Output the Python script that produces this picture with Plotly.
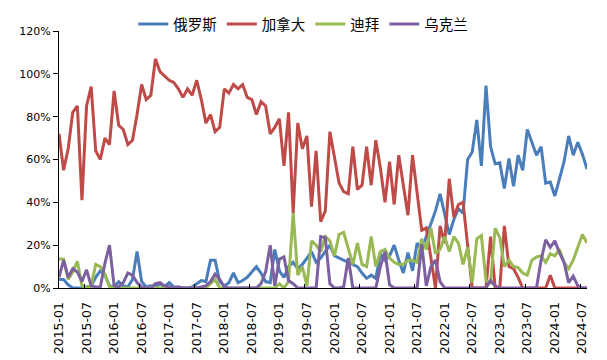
import plotly.graph_objects as go

# Monthly categories 2015-01 .. 2024-08
months = [f"{y}-{m:02d}" for y in range(2015, 2025) for m in range(1, 13)][:116]

series_names = ["俄罗斯", "加拿大", "迪拜", "乌克兰"]
series_colors = ["#4A7EBB", "#BE4B48", "#98B954", "#7D60A0"]

# values in percent
russia = [4, 4, 1.5, 0, 0, 0, 0.5, 1, 5, 8, 6, 1, 0.5, 3, 1, 0.5, 4, 17, 3, 0.5,
          1, 0.5, 2, 0.5, 2.5, 0.5, 0.5, 0, 0, 0.5, 2, 3.5, 3, 13, 13, 3, 1, 2.5, 7, 2.5,
          3.5, 5, 7.5, 10, 7, 3, 2.5, 18, 8, 5, 10, 12, 9, 11, 14, 17, 12, 14, 17, 20,
          15, 14, 13, 12, 11, 10, 7, 4.5, 6, 4.5, 16, 13, 15, 20, 13, 7, 16.5, 8, 21, 18,
          24, 30, 36, 44, 34, 25, 32, 37, 35, 60, 63.5, 78.5, 57, 94.5, 66, 58, 58.5, 46.5, 60.5, 47.5,
          62, 55, 74, 68, 62, 66, 49, 49.5, 43, 51, 59, 71, 62, 68, 62.5, 55.5]

canada = [72, 55, 65, 82, 85, 41, 85, 94, 64, 60, 70, 67, 92, 76, 74, 67, 69, 81, 95, 88,
          90, 107, 101, 99, 97, 96, 93, 89, 93, 90, 97, 88, 77, 81, 73, 75, 93, 91, 95, 93,
          95, 89, 88, 81, 87, 85, 72, 75, 79, 57, 82, 35, 77, 65, 71, 38, 64, 31, 36, 73,
          60, 49, 45, 44, 66, 46, 48, 66, 48, 69, 56, 40, 59, 39, 62, 48, 34, 62, 45, 27,
          28, 13, 0, 29, 21, 51, 33, 39, 40, 20, 0, 0, 0, 0, 24, 0, 0, 29, 10, 9,
          5, 0, 0, 0, 0, 0, 0, 6, 0, 0, 0, 0, 0, 0, 0, 0]

dubai = [13.5, 13.5, 4, 7.5, 12.5, 1, 0, 1, 11, 10, 6.5, 0.5, 0, 0, 0, 0, 0, 0, 0, 0,
         0, 0, 0, 0, 0, 0, 0, 0, 0, 0, 0, 0, 0, 2, 4, 0, 0, 0, 0, 0,
         0, 0, 0, 0, 0, 0, 0, 0, 2, 0, 3, 35, 6, 10, 1, 22, 20, 17, 24, 22,
         15, 25, 26, 19, 11, 21, 11, 10, 24, 10, 17, 18, 14, 12, 11, 11, 13, 13, 12, 23,
         18, 28, 16, 18, 24, 17, 24, 21, 11, 19, 2.5, 23, 24.5, 3.5, 2.5, 28, 23.5, 10, 13, 10,
         9.5, 7, 6, 13, 14.5, 15, 12, 16, 15, 18, 12, 9, 13, 19, 25, 21]

ukraine = [5, 13, 5, 9, 7.5, 3, 8.5, 1, 0.5, 0.5, 11.5, 20, 1, 0.5, 2.5, 7, 6, 2.5, 0.5, 0,
           0, 2, 2.5, 1, 0.5, 0, 0.5, 0, 0, 0, 0, 0.5, 1, 3, 6.5, 4, 0.5, 0, 0, 0,
           0, 0, 0, 0, 2, 7.5, 20, 1, 13.5, 14.5, 3.5, 2, 0, 0, 0, 0, 0, 24, 23.5, 2,
           0, 0, 0.5, 14, 0, 0, 0, 0, 0, 0, 10, 17, 1.5, 0, 0, 0, 0, 0, 0, 20.5,
           1, 10, 13, 3, 0, 0, 0, 0, 0, 0, 0, 0, 0, 0, 3.5, 1, 0, 0, 0, 0,
           0, 0, 0, 0, 0, 13, 22.5, 19, 22, 16.5, 12, 2.5, 5.5, 1, 0, 0]

all_values = [russia, canada, dubai, ukraine]

x_idx = list(range(len(months)))
label_idx = x_idx[::6]
label_text = months[::6]

fig = go.Figure()
for name, color, vals in zip(series_names, series_colors, all_values):
    fig.add_trace(go.Scatter(
        x=x_idx, y=[v / 100 for v in vals], name=name, mode="lines",
        line=dict(color=color, width=3), hoverinfo="skip"))

# page body has an 8px margin, so the figure is sized/offset to compensate
fig.update_layout(
    template="none",
    width=599, height=352,
    margin=dict(l=51, r=20, t=23, b=71.5, autoexpand=False),
    paper_bgcolor="white", plot_bgcolor="white",
    font=dict(family="DejaVu Sans, Noto Sans CJK SC", size=11, color="black"),
    legend=dict(orientation="h", xref="container", yref="container",
                x=0.493, xanchor="center", y=1.0, yanchor="top",
                font=dict(family="Noto Sans CJK SC", size=14.5, color="black"),
                itemwidth=30, tracegroupgap=0, bgcolor="rgba(0,0,0,0)"),
    showlegend=True,
)
fig.update_xaxes(
    range=[0, len(months) - 1], showgrid=False, zeroline=False, automargin=False,
    showline=True, linecolor="black", linewidth=1,
    tickmode="array", tickvals=label_idx, ticktext=label_text,
    tickangle=-90, ticks="", ticklabelstandoff=8,
    tickfont=dict(size=12.5, family="DejaVu Sans"),
    minor=dict(tickmode="linear", tick0=5.5, dtick=12, ticks="inside",
               ticklen=4, tickcolor="black", showgrid=False),
)
fig.update_yaxes(
    range=[0, 1.2], dtick=0.2, tickformat=".0%", showgrid=False, zeroline=False,
    automargin=False,
    showline=True, linecolor="black", linewidth=1,
    ticks="outside", ticklen=5, tickcolor="black",
    tickfont=dict(size=11, family="DejaVu Sans"),
)

fig.write_html("out.html")
